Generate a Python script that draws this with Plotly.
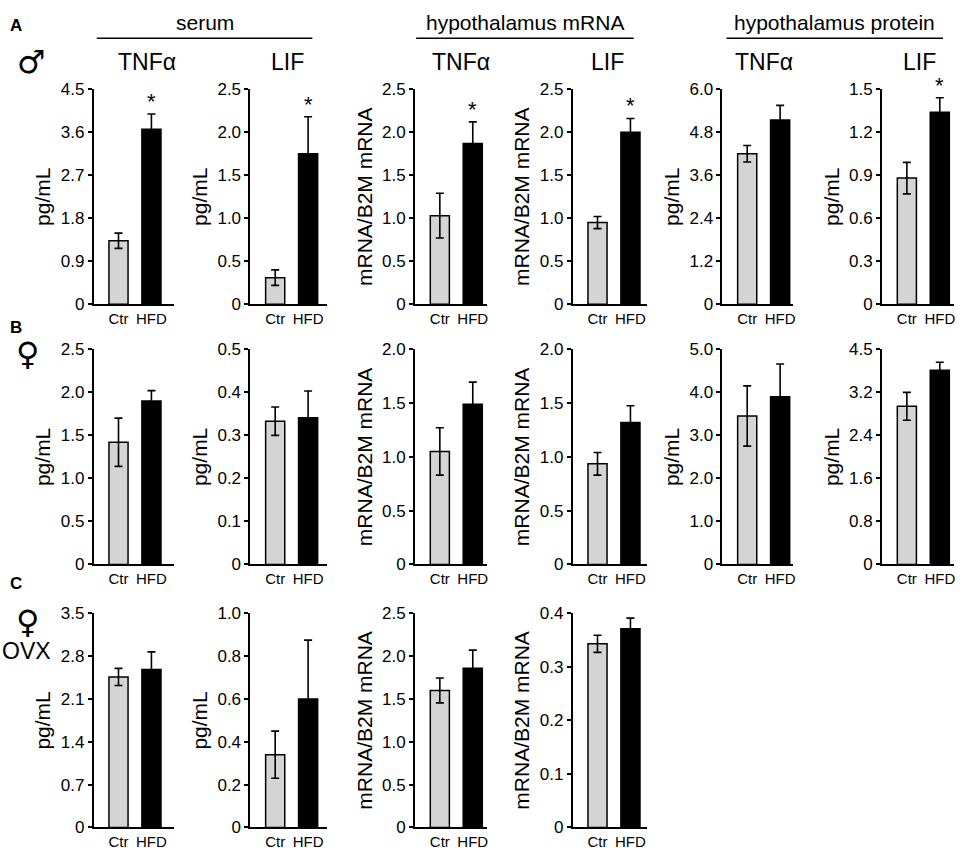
import numpy as np
import plotly.graph_objects as go

W, H = 963, 859

groups = ['serum', 'hypothalamus mRNA', 'hypothalamus protein']
col_titles = ['TNFα', 'LIF', 'TNFα', 'LIF', 'TNFα', 'LIF']
ylabels = ['pg/mL', 'pg/mL', 'mRNA/B2M mRNA', 'mRNA/B2M mRNA', 'pg/mL', 'pg/mL']
categories = ['Ctr', 'HFD']

# Row A - male
ctr_a = [1.33, 0.31, 1.03, 0.95, 4.20, 0.88]
ctr_a_sem = [0.16, 0.09, 0.26, 0.07, 0.23, 0.11]
hfd_a = [3.66, 1.75, 1.87, 2.00, 5.14, 1.34]
hfd_a_sem = [0.32, 0.43, 0.25, 0.16, 0.41, 0.10]
sig_a = [True, True, True, True, False, True]
ymax_a = [4.5, 2.5, 2.5, 2.5, 6.0, 1.5]
ticks_a = [['0', '0.9', '1.8', '2.7', '3.6', '4.5'],
           ['0', '0.5', '1.0', '1.5', '2.0', '2.5'],
           ['0', '0.5', '1.0', '1.5', '2.0', '2.5'],
           ['0', '0.5', '1.0', '1.5', '2.0', '2.5'],
           ['0', '1.2', '2.4', '3.6', '4.8', '6.0'],
           ['0', '0.3', '0.6', '0.9', '1.2', '1.5']]

# Row B - female
ctr_b = [1.42, 0.333, 1.05, 0.935, 3.45, 2.94]
ctr_b_sem = [0.28, 0.033, 0.22, 0.105, 0.70, 0.26]
hfd_b = [1.90, 0.341, 1.49, 1.32, 3.90, 3.61]
hfd_b_sem = [0.12, 0.062, 0.205, 0.155, 0.76, 0.15]
sig_b = [False] * 6
ymax_b = [2.5, 0.5, 2.0, 2.0, 5.0, 4.0]
ticks_b = [['0', '0.5', '1.0', '1.5', '2.0', '2.5'],
           ['0', '0.1', '0.2', '0.3', '0.4', '0.5'],
           ['0', '0.5', '1.0', '1.5', '2.0'],
           ['0', '0.5', '1.0', '1.5', '2.0'],
           ['0', '1.0', '2.0', '3.0', '4.0', '5.0'],
           ['0', '0.8', '1.6', '2.4', '3.2', '4.5']]

# Row C - female OVX
ctr_c = [2.46, 0.34, 1.60, 0.343]
ctr_c_sem = [0.14, 0.11, 0.145, 0.016]
hfd_c = [2.58, 0.60, 1.86, 0.371]
hfd_c_sem = [0.29, 0.275, 0.21, 0.02]
sig_c = [False] * 4
ymax_c = [3.5, 1.0, 2.5, 0.4]
ticks_c = [['0', '0.7', '1.4', '2.1', '2.8', '3.5'],
           ['0', '0.2', '0.4', '0.6', '0.8', '1.0'],
           ['0', '0.5', '1.0', '1.5', '2.0', '2.5'],
           ['0', '0.1', '0.2', '0.3', '0.4']]

rows = [
    (ctr_a, ctr_a_sem, hfd_a, hfd_a_sem, sig_a, ymax_a, ticks_a),
    (ctr_b, ctr_b_sem, hfd_b, hfd_b_sem, sig_b, ymax_b, ticks_b),
    (ctr_c, ctr_c_sem, hfd_c, hfd_c_sem, sig_c, ymax_c, ticks_c),
]

# pixel layout of the panels (axis left, width) and rows (top, bottom)
col_left = [94, 251, 416, 574, 724, 884]
col_w = [80, 77, 72, 74, 71, 72]
row_top = [82, 348, 618]
row_bot = [302, 568, 837]
px_per_unit = 33.0
x_start = -0.75

FONT = 'Liberation Sans, Arial, sans-serif'

fig = go.Figure()
annotations = []
n = 0
for r, (ctr, ctr_sem, hfd, hfd_sem, sig, ymax, ticks) in enumerate(rows):
    for c in range(len(ctr)):
        n += 1
        xa = 'x' if n == 1 else 'x%d' % n
        ya = 'y' if n == 1 else 'y%d' % n
        fig.add_trace(go.Bar(
            x=categories, y=[ctr[c], hfd[c]],
            xaxis=xa, yaxis=ya, width=0.58,
            marker=dict(color=['#d4d4d4', 'black'], line=dict(color='black', width=1.5)),
            error_y=dict(type='data', array=[ctr_sem[c], hfd_sem[c]],
                         color='black', thickness=1.6, width=4),
            showlegend=False, hoverinfo='skip'))
        x0 = col_left[c] / W
        x1 = (col_left[c] + col_w[c]) / W
        y0 = 1 - row_bot[r] / H
        y1 = 1 - row_top[r] / H
        suffix = '' if n == 1 else str(n)
        fig.layout['xaxis' + suffix] = dict(
            domain=[x0, x1], anchor=ya,
            range=[x_start, x_start + col_w[c] / px_per_unit],
            showline=True, linecolor='black', linewidth=2, ticks='',
            showgrid=False, zeroline=False,
            tickfont=dict(family=FONT, size=15, color='black'))
        fig.layout['yaxis' + suffix] = dict(
            domain=[y0, y1], anchor=xa, range=[0, ymax[c]],
            tickvals=list(np.linspace(0, ymax[c], len(ticks[c]))),
            ticktext=ticks[c],
            showline=True, linecolor='black', linewidth=2,
            ticks='outside', ticklen=4, tickwidth=1.5, tickcolor='black',
            showgrid=False, zeroline=False,
            tickfont=dict(family=FONT, size=17, color='black'),
            title=dict(text=ylabels[c], standoff=4,
                       font=dict(family=FONT, size=21, color='black')))
        if sig[c]:
            annotations.append(dict(
                x='HFD', y=hfd[c] + hfd_sem[c], xref=xa, yref=ya,
                text='*', showarrow=False, yanchor='bottom', yshift=-2,
                font=dict(family=FONT, size=22, color='black')))

# group headers with rule lines
group_x = [(97, 313), (417, 635), (728, 945)]
shapes = []
for g, (a, b) in zip(groups, group_x):
    shapes.append(dict(type='line', xref='paper', yref='paper',
                       x0=a / W, x1=b / W, y0=1 - 30 / H, y1=1 - 30 / H,
                       line=dict(color='black', width=1.5)))
    annotations.append(dict(x=(a + b) / 2 / W, y=1 - 14 / H, xref='paper', yref='paper',
                            text=g, showarrow=False, xanchor='center', yanchor='middle',
                            font=dict(family=FONT, size=21, color='black')))

title_x = [147, 288, 462, 609, 766, 921]
for t, tx in zip(col_titles, title_x):
    annotations.append(dict(x=tx / W, y=1 - 54 / H, xref='paper', yref='paper',
                            text=t, showarrow=False, xanchor='center', yanchor='middle',
                            font=dict(family=FONT, size=23, color='black')))

# panel letters and sex symbols
side = [('<b>A</b>', 16, 17, 17), ('<b>B</b>', 16, 326, 17), ('<b>C</b>', 16, 588, 17),
        ('♂', 32, 54, 32), ('♀', 28, 353, 32), ('♀', 28, 627, 32), ('OVX', 27, 657, 23)]
for txt, sx, sy, fs in side:
    annotations.append(dict(x=sx / W, y=1 - sy / H, xref='paper', yref='paper',
                            text=txt, showarrow=False, xanchor='center', yanchor='middle',
                            font=dict(family='DejaVu Sans' if txt in ('♂', '♀') else FONT,
                                      size=fs, color='black')))

fig.update_layout(
    width=W, height=H, margin=dict(l=0, r=0, t=0, b=0),
    paper_bgcolor='white', plot_bgcolor='white',
    annotations=annotations, shapes=shapes)

# pin the plot to the top-left corner of the page so nothing scrolls
pin = """
document.documentElement.style.margin='0';
document.documentElement.style.overflow='hidden';
document.body.style.margin='0';
document.body.style.overflow='hidden';
var gd = document.querySelector('.plotly-graph-div');
gd.style.position='fixed'; gd.style.left='0px'; gd.style.top='0px';
"""
fig.write_html("out.html", config={'displayModeBar': False}, post_script=pin)
